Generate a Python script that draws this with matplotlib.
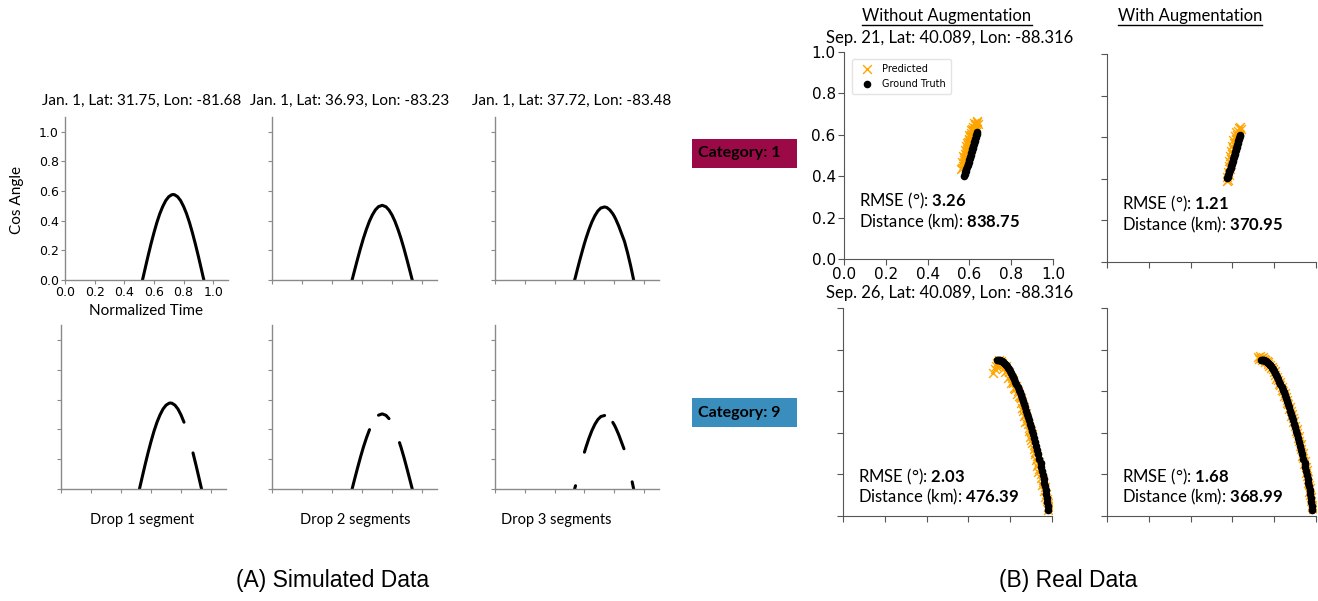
import numpy as np
import matplotlib.pyplot as plt
from matplotlib.patches import Rectangle
from matplotlib.lines import Line2D

plt.rcParams['font.family'] = 'DejaVu Sans'
plt.rcParams['mathtext.fontset'] = 'custom'
plt.rcParams['mathtext.rm'] = 'Lato'
plt.rcParams['mathtext.bf'] = 'Lato:bold'

# (A) simulated cos angle curves
t1 = [0.523, 0.54, 0.56, 0.58, 0.60, 0.62, 0.64, 0.66, 0.68, 0.70, 0.72, 0.73,
      0.74, 0.76, 0.78, 0.80, 0.82, 0.84, 0.86, 0.88, 0.90, 0.92, 0.937]
c1 = [0, 0.074, 0.160, 0.242, 0.318, 0.388, 0.448, 0.497, 0.536, 0.562, 0.575, 0.577,
      0.575, 0.562, 0.536, 0.497, 0.448, 0.388, 0.318, 0.242, 0.160, 0.074, 0]
t2 = [0.534, 0.55, 0.57, 0.59, 0.61, 0.63, 0.65, 0.67, 0.69, 0.71, 0.735,
      0.76, 0.78, 0.80, 0.82, 0.84, 0.85, 0.86, 0.88, 0.90, 0.92, 0.935]
c2 = [0, 0.063, 0.140, 0.214, 0.283, 0.344, 0.398, 0.441, 0.474, 0.495, 0.504,
      0.494, 0.472, 0.439, 0.395, 0.341, 0.311, 0.280, 0.211, 0.136, 0.059, 0]
t3 = [0.534, 0.54, 0.55, 0.57, 0.59, 0.60, 0.61, 0.63, 0.65, 0.67, 0.69, 0.71, 0.735,
      0.75, 0.77, 0.79, 0.80, 0.81, 0.83, 0.85, 0.865, 0.87, 0.89, 0.91, 0.92, 0.93]
c3 = [0, 0.022, 0.062, 0.139, 0.212, 0.247, 0.280, 0.340, 0.392, 0.434, 0.466, 0.486, 0.493,
      0.489, 0.473, 0.447, 0.430, 0.410, 0.364, 0.310, 0.270, 0.255, 0.180, 0.095, 0.048, 0]

sim_titles = ["Jan. 1, Lat: 31.75, Lon: -81.68",
              "Jan. 1, Lat: 36.93, Lon: -83.23",
              "Jan. 1, Lat: 37.72, Lon: -83.48"]
drop_labels = ["Drop 1 segment", "Drop 2 segments", "Drop 3 segments"]
# kept time windows after dropping segments
keep1 = [(0.50, 0.82), (0.88, 0.95)]
keep2 = [(0.50, 0.65), (0.71, 0.78), (0.85, 0.95)]
keep3 = [(0.53, 0.54), (0.60, 0.735), (0.79, 0.865), (0.92, 0.93)]

# (B) real data
gt21_x = [0.576, 0.5785, 0.581, 0.5835, 0.586, 0.5885, 0.591, 0.5935, 0.596, 0.5985,
          0.601, 0.6035, 0.606, 0.6085, 0.611, 0.6135, 0.616, 0.6185, 0.621, 0.6235,
          0.626, 0.6285, 0.631, 0.6335, 0.636, 0.638]
gt21_y = [0.402, 0.410, 0.419, 0.427, 0.436, 0.444, 0.453, 0.461, 0.470, 0.478,
          0.487, 0.495, 0.504, 0.512, 0.521, 0.529, 0.538, 0.546, 0.555, 0.563,
          0.572, 0.580, 0.589, 0.597, 0.606, 0.612]
pr21_no_x = [0.562, 0.568, 0.565, 0.572, 0.575, 0.570, 0.580, 0.578, 0.585, 0.583, 0.590,
             0.588, 0.595, 0.600, 0.598, 0.605, 0.610, 0.607, 0.615, 0.618, 0.625, 0.622,
             0.630, 0.635, 0.628, 0.612, 0.592, 0.580, 0.620, 0.603, 0.566, 0.574, 0.582,
             0.587, 0.593, 0.597, 0.602, 0.609, 0.613, 0.620, 0.627, 0.638, 0.640, 0.632]
pr21_no_y = [0.435, 0.450, 0.470, 0.462, 0.490, 0.500, 0.505, 0.525, 0.520, 0.545, 0.540,
             0.560, 0.565, 0.580, 0.600, 0.595, 0.610, 0.625, 0.620, 0.640, 0.635, 0.655,
             0.650, 0.665, 0.620, 0.580, 0.510, 0.470, 0.600, 0.560, 0.440, 0.480, 0.495,
             0.530, 0.550, 0.575, 0.590, 0.600, 0.630, 0.625, 0.645, 0.660, 0.650, 0.630]
pr21_aug_x = [0.572, 0.580, 0.574, 0.583, 0.578, 0.587, 0.582, 0.591, 0.586, 0.595, 0.590,
              0.600, 0.595, 0.605, 0.600, 0.610, 0.605, 0.616, 0.612, 0.622, 0.618, 0.628,
              0.632, 0.640, 0.636]
pr21_aug_y = [0.388, 0.395, 0.410, 0.420, 0.435, 0.445, 0.460, 0.470, 0.485, 0.495, 0.510,
              0.520, 0.535, 0.545, 0.560, 0.570, 0.585, 0.590, 0.605, 0.610, 0.625, 0.630,
              0.645, 0.640, 0.650]

gt26_x = [0.735, 0.740, 0.745, 0.750, 0.755, 0.760, 0.765, 0.770, 0.775, 0.780,
          0.785, 0.790, 0.795, 0.800, 0.805, 0.810, 0.815, 0.820, 0.825, 0.830,
          0.835, 0.840, 0.845, 0.850, 0.855, 0.860, 0.865, 0.870, 0.875, 0.880,
          0.885, 0.890, 0.895, 0.900, 0.905, 0.910, 0.915, 0.920, 0.925, 0.930,
          0.935, 0.940, 0.945, 0.949, 0.953, 0.957, 0.960, 0.963, 0.966, 0.969,
          0.971, 0.974, 0.976, 0.979, 0.981]
gt26_y = [0.750, 0.750, 0.749, 0.748, 0.746, 0.743, 0.740, 0.736, 0.732, 0.726,
          0.720, 0.713, 0.705, 0.697, 0.688, 0.678, 0.668, 0.657, 0.645, 0.633,
          0.620, 0.607, 0.594, 0.580, 0.566, 0.552, 0.537, 0.522, 0.507, 0.492,
          0.476, 0.460, 0.444, 0.427, 0.410, 0.392, 0.374, 0.355, 0.336, 0.316,
          0.296, 0.275, 0.254, 0.236, 0.218, 0.199, 0.180, 0.161, 0.142, 0.123,
          0.104, 0.085, 0.066, 0.047, 0.028]
pr26_no_x = [0.718, 0.728, 0.735, 0.748, 0.752, 0.760, 0.770, 0.775, 0.785, 0.790, 0.800,
             0.805, 0.812, 0.818, 0.830, 0.832, 0.845, 0.850, 0.858, 0.862, 0.868, 0.875,
             0.872, 0.884, 0.890, 0.895, 0.905, 0.905, 0.912, 0.920, 0.925, 0.930, 0.940,
             0.935, 0.945, 0.952, 0.958, 0.962, 0.968, 0.975, 0.980, 0.985,
             0.730, 0.742, 0.755, 0.765, 0.778, 0.795, 0.808, 0.815, 0.825, 0.838, 0.840,
             0.852, 0.855, 0.865, 0.878, 0.880, 0.888, 0.898, 0.900, 0.915, 0.918, 0.928,
             0.932, 0.940, 0.948, 0.955, 0.965, 0.970, 0.978, 0.982, 0.988]
pr26_no_y = [0.688, 0.705, 0.735, 0.750, 0.720, 0.735, 0.710, 0.690, 0.700, 0.665, 0.675,
             0.640, 0.655, 0.615, 0.625, 0.585, 0.570, 0.545, 0.550, 0.505, 0.480, 0.495,
             0.450, 0.440, 0.410, 0.380, 0.395, 0.350, 0.320, 0.300, 0.270, 0.240, 0.260,
             0.210, 0.185, 0.150, 0.165, 0.120, 0.090, 0.070, 0.045, 0.055,
             0.720, 0.740, 0.745, 0.725, 0.720, 0.690, 0.665, 0.640, 0.610, 0.600, 0.575,
             0.565, 0.520, 0.525, 0.470, 0.455, 0.425, 0.410, 0.365, 0.340, 0.310, 0.290,
             0.250, 0.225, 0.200, 0.175, 0.140, 0.105, 0.080, 0.030, 0.065]
pr26_aug_x = [0.722, 0.730, 0.738, 0.745, 0.750, 0.758, 0.765, 0.772, 0.780, 0.785, 0.792,
              0.798, 0.806, 0.810, 0.818, 0.822, 0.830, 0.835, 0.843, 0.848, 0.855, 0.860,
              0.866, 0.870, 0.878, 0.882, 0.888, 0.892, 0.900, 0.903, 0.910, 0.913, 0.920,
              0.922, 0.930, 0.933, 0.940, 0.943, 0.950, 0.952, 0.958, 0.960, 0.966, 0.968,
              0.973, 0.976, 0.980, 0.984,
              0.728, 0.742, 0.755, 0.768, 0.776, 0.788, 0.802, 0.814, 0.826, 0.838, 0.851,
              0.863, 0.874, 0.885, 0.896, 0.907, 0.917, 0.926, 0.936, 0.946, 0.955, 0.963,
              0.970, 0.975, 0.981]
pr26_aug_y = [0.765, 0.770, 0.760, 0.765, 0.755, 0.750, 0.745, 0.730, 0.728, 0.710, 0.705,
              0.690, 0.678, 0.660, 0.655, 0.635, 0.628, 0.605, 0.600, 0.575, 0.570, 0.545,
              0.540, 0.515, 0.505, 0.480, 0.470, 0.450, 0.435, 0.410, 0.400, 0.375, 0.360,
              0.335, 0.320, 0.290, 0.280, 0.250, 0.235, 0.205, 0.190, 0.160, 0.150, 0.115,
              0.100, 0.070, 0.055, 0.035,
              0.755, 0.752, 0.742, 0.738, 0.720, 0.718, 0.695, 0.668, 0.645, 0.620, 0.590,
              0.560, 0.525, 0.490, 0.455, 0.420, 0.385, 0.345, 0.305, 0.265, 0.220, 0.180,
              0.135, 0.090, 0.045]

real_titles = ["Sep. 21, Lat: 40.089, Lon: -88.316", "Sep. 26, Lat: 40.089, Lon: -88.316"]
rmse = [["3.26", "1.21"], ["2.03", "1.68"]]
dist = [["838.75", "370.95"], ["476.39", "368.99"]]

W, H = 1318, 601
fig = plt.figure(figsize=(W / 100, H / 100), dpi=100)
CAL = 'Lato'


def box(x0, y0, x1, y1):
    return [x0 / W, 1 - y1 / H, (x1 - x0) / W, (y1 - y0) / H]


def style_sim(ax, labels):
    for s in ['top', 'right']:
        ax.spines[s].set_visible(False)
    for s in ['left', 'bottom']:
        ax.spines[s].set_color('#8a8a8a')
        ax.spines[s].set_linewidth(1.0)
    ax.set_xlim(0, 1.1)
    ax.set_ylim(0, 1.1)
    ax.set_xticks(np.arange(0, 1.01, 0.2))
    ax.set_yticks(np.arange(0, 1.01, 0.2))
    ax.tick_params(length=3, width=0.8, color='#8a8a8a', labelsize=9,
                   labelbottom=labels, labelleft=labels, pad=1.5)


def draw_segments(ax, t, c, keep):
    t = np.array(t)
    c = np.array(c)
    for a, b in keep:
        m = (t >= a) & (t <= b)
        ax.plot(t[m], c[m], color='black', lw=2.2, solid_capstyle='round')


curves = [(t1, c1, keep1), (t2, c2, keep2), (t3, c3, keep3)]
lefts = [(65, 228), (272, 437), (495, 659)]
lefts_b = [(61, 226), (272, 437), (495, 659)]
for i, (t, c, keep) in enumerate(curves):
    ax = fig.add_axes(box(lefts[i][0], 117, lefts[i][1], 280))
    style_sim(ax, i == 0)
    ax.plot(t, c, color='black', lw=2.2)
    fig.text((lefts[i][0] + lefts[i][1]) / 2 / W - 0.004, 1 - 101 / H, sim_titles[i],
             ha='center', va='center', fontsize=11, family=CAL)
    axb = fig.add_axes(box(lefts_b[i][0], 325, lefts_b[i][1], 489))
    style_sim(axb, False)
    draw_segments(axb, t, c, keep)

fig.text(17 / W, 1 - 200 / H, "Cos Angle", rotation=90, ha='center', va='center',
         fontsize=11, family=CAL)
fig.text(146 / W, 1 - 311 / H, "Normalized Time", ha='center', va='center',
         fontsize=11, family=CAL)
for x, lab in zip([142, 355, 556], drop_labels):
    fig.text(x / W, 1 - 520 / H, lab, ha='center', va='center', fontsize=10.5, family=CAL)

# category tags
for (y0, y1), lab, col in [((139, 168), "Category: 1", '#9b0a47'),
                           ((398, 427), "Category: 9", '#3a8ebe')]:
    fig.add_artist(Rectangle((692 / W, 1 - y1 / H), 105 / W, (y1 - y0) / H,
                             transform=fig.transFigure, facecolor=col, edgecolor='none'))
    fig.text(698 / W, 1 - (y0 + y1) / 2 / H, lab, ha='left', va='center',
             fontsize=11.5, fontweight='bold', family=CAL, color='black')

# (B) real data panels
rb = [[(844, 52, 1053, 259), (1107, 54, 1316, 262)],
      [(843, 308, 1052, 516), (1107, 308, 1316, 516)]]
preds = [[(pr21_no_x, pr21_no_y), (pr21_aug_x, pr21_aug_y)],
         [(pr26_no_x, pr26_no_y), (pr26_aug_x, pr26_aug_y)]]
gts = [(gt21_x, gt21_y), (gt26_x, gt26_y)]
txt_y = [(0.28, 0.18), (0.19, 0.09)]
for r in range(2):
    for k in range(2):
        ax = fig.add_axes(box(*rb[r][k]))
        for s in ['top', 'right']:
            ax.spines[s].set_visible(False)
        for s in ['left', 'bottom']:
            ax.spines[s].set_color('#555555')
        ax.set_xlim(0, 1)
        ax.set_ylim(0, 1)
        ax.set_xticks(np.arange(0, 1.01, 0.2))
        ax.set_yticks(np.arange(0, 1.01, 0.2))
        show = (r == 0 and k == 0)
        ax.tick_params(length=4, width=0.8, color='#555555', labelsize=11,
                       labelbottom=show, labelleft=show, pad=2)
        px, py = preds[r][k]
        ax.scatter(px, py, marker='x', s=40, color='#ffa500', linewidths=1.0,
                   label='Predicted', zorder=2)
        ax.scatter(gts[r][0], gts[r][1], marker='o', s=20, color='black',
                   label='Ground Truth', zorder=3)
        ax.text(0.07, txt_y[r][0], r'RMSE (°): $\mathbf{' + rmse[r][k] + '}$',
                transform=ax.transAxes, fontsize=12, family=CAL, va='center')
        ax.text(0.07, txt_y[r][1], r'Distance (km): $\mathbf{' + dist[r][k] + '}$',
                transform=ax.transAxes, fontsize=12, family=CAL, va='center')
        if show:
            ax.legend(loc='upper left', bbox_to_anchor=(0.015, 0.99), fontsize=7,
                      frameon=True, edgecolor='#dddddd', handletextpad=0.6,
                      borderpad=0.5, labelspacing=0.5, markerscale=1.0)

fig.text(950 / W, 1 - 38 / H, real_titles[0], ha='center', va='center',
         fontsize=12, family=CAL)
fig.text(950 / W, 1 - 293 / H, real_titles[1], ha='center', va='center',
         fontsize=12, family=CAL)

heads = [fig.text(947 / W, 1 - 16 / H, "Without Augmentation", ha='center', va='center',
                  fontsize=12, family=CAL),
         fig.text(1190 / W, 1 - 16 / H, "With Augmentation", ha='center', va='center',
                  fontsize=12, family=CAL)]

fig.text(333 / W, 1 - 580 / H, "(A) Simulated Data", ha='center', va='center',
         fontsize=16.5, family='Liberation Sans')
fig.text(1068 / W, 1 - 580 / H, "(B) Real Data", ha='center', va='center',
         fontsize=16.5, family='Liberation Sans')

# underline the column headers
fig.canvas.draw()
for h in heads:
    bb = h.get_window_extent()
    fig.add_artist(Line2D([bb.x0 / W, bb.x1 / W], [(bb.y0 - 0.5) / H] * 2,
                          transform=fig.transFigure, color='black', lw=1))

fig.savefig("out.png", dpi=100)
